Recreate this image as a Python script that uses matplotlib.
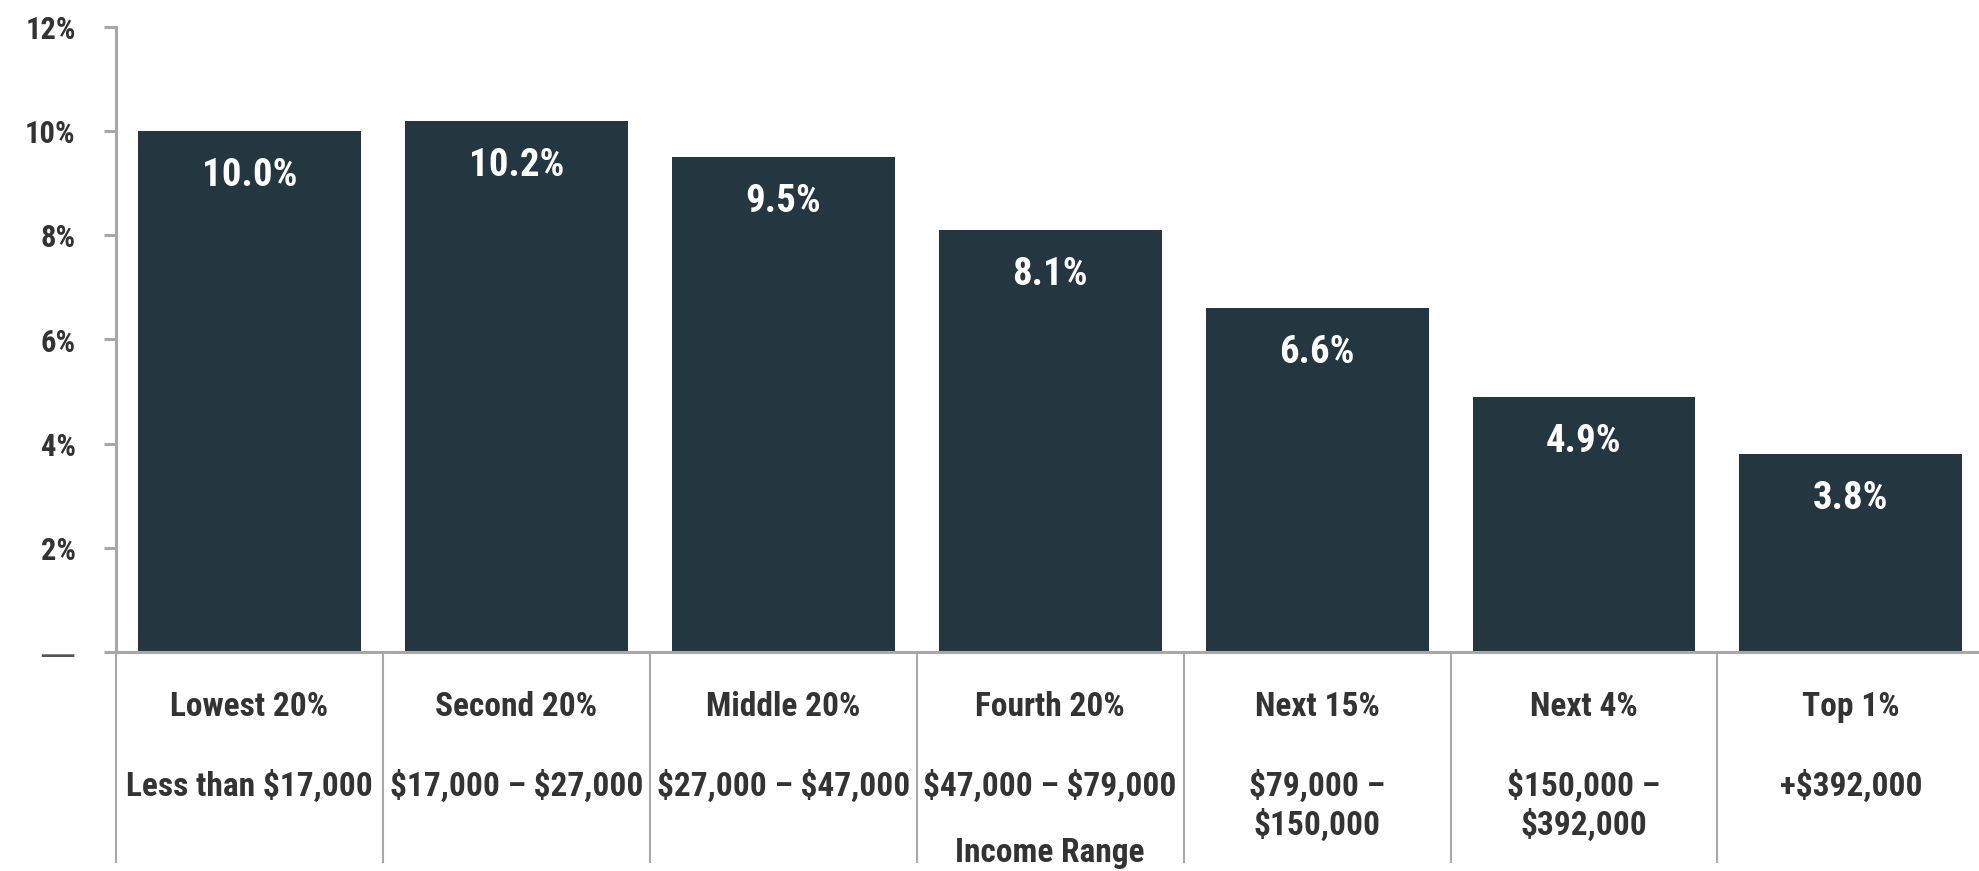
import matplotlib
matplotlib.use('Agg')
import matplotlib.pyplot as plt
from matplotlib import font_manager
import numpy as np

# datos del grafico
grupos = ['Lowest 20%', 'Second 20%', 'Middle 20%', 'Fourth 20%',
          'Next 15%', 'Next 4%', 'Top 1%']
rangos = ['Less than $17,000', '$17,000 – $27,000', '$27,000 – $47,000',
          '$47,000 – $79,000', '$79,000 –\n$150,000', '$150,000 –\n$392,000',
          '+$392,000']
valores = [10.0, 10.2, 9.5, 8.1, 6.6, 4.9, 3.8]
yticks = [0, 2, 4, 6, 8, 10, 12]
ytick_labels = ['—', '2%', '4%', '6%', '8%', '10%', '12%']

# buscar una fuente angosta disponible
fuentes = font_manager.fontManager.ttflist
nombres = {f.name for f in fuentes}
fuente, estiramiento = 'DejaVu Sans', 'normal'
for cand in ['Liberation Sans Narrow', 'Roboto Condensed', 'Open Sans Condensed']:
    if cand in nombres:
        fuente = cand
        break
else:
    for f in fuentes:
        if f.name in ('Open Sans', 'Roboto', 'DejaVu Sans', 'Noto Sans') and \
                f.stretch in ('condensed', 'semi-condensed', 'extra-condensed', 75, 87.5):
            fuente, estiramiento = f.name, f.stretch
            break

plt.rcParams['font.family'] = [fuente, 'DejaVu Sans']
plt.rcParams['font.stretch'] = estiramiento
plt.rcParams['text.parse_math'] = False

color_barra = '#243640'
color_gris = '#a8a8a8'
color_texto = '#333333'

fig = plt.figure(figsize=(19.79, 8.71), dpi=100)
W, H = 1979, 871
y0_px, y12_px = 652, 27
ax = fig.add_axes([116 / W, (H - y0_px) / H, 1 - 116 / W, (y0_px - y12_px) / H])

x = np.arange(len(valores))
ax.bar(x, valores, width=0.835, color=color_barra, zorder=2)
ax.set_xlim(-0.5, 6.48)
ax.set_ylim(0, 12)

# etiquetas de valor dentro de la barra
for xi, v in zip(x, valores):
    ax.text(xi, v - 0.85, '%.1f%%' % v, ha='center', va='center',
            color='white', fontsize=28, fontweight='bold', zorder=3)

# ejes
for s in ['top', 'right']:
    ax.spines[s].set_visible(False)
ax.spines['left'].set_color(color_gris)
ax.spines['bottom'].set_color(color_gris)
ax.spines['left'].set_linewidth(2.2)
ax.spines['bottom'].set_linewidth(2.2)
ax.set_xticks([])
ax.set_yticks(yticks)
ax.set_yticklabels(ytick_labels, fontsize=22, fontweight='bold', color=color_texto)
cero = ax.get_yticklabels()[0]
cero.set_fontfamily('DejaVu Sans')
cero.set_fontweight('normal')
cero.set_fontsize(26)
cero.set_color('#555555')
ax.tick_params(axis='y', length=9, width=2.2, color=color_gris, pad=20)

# lineas separadoras bajo el eje
y_fondo = -(862 - y0_px) / ((y0_px - y12_px) / 12)
for k in range(-1, 6):
    ax.plot([k + 0.5, k + 0.5], [0, y_fondo], color=color_gris, lw=1.5,
            clip_on=False, zorder=1)

# etiquetas de categoria
for xi, g, r in zip(x, grupos, rangos):
    ax.text(xi, -1.06, g, ha='center', va='center', fontsize=24,
            fontweight='bold', color=color_texto)
    ax.text(xi, -2.26, r, ha='center', va='top', fontsize=24,
            fontweight='bold', color=color_texto, linespacing=1.25)

ax.text(3, -3.86, 'Income Range', ha='center', va='center', fontsize=24,
        fontweight='bold', color=color_texto)

fig.savefig('out.png', dpi=100, facecolor='white')
